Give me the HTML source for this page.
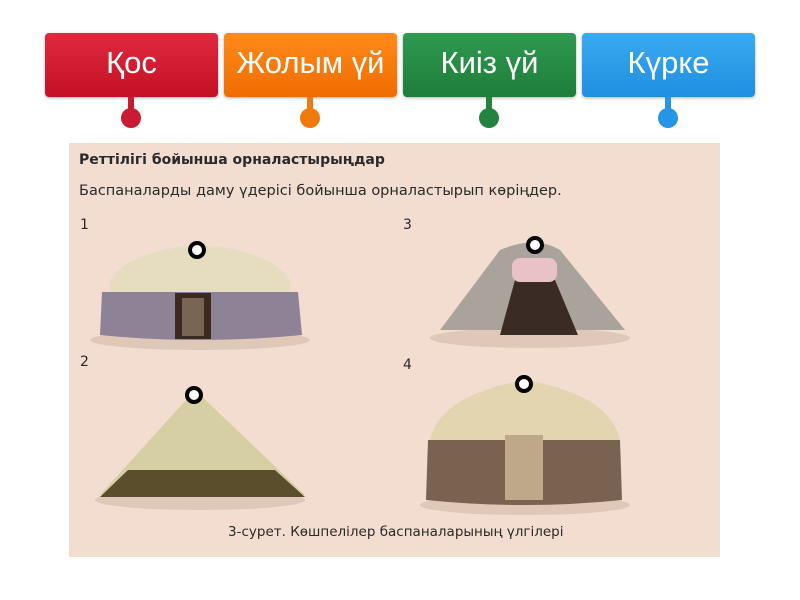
<!DOCTYPE html>
<html><head><meta charset="utf-8"><style>
body{margin:0;width:800px;height:600px;background:#fff;position:relative;overflow:hidden;font-family:"Liberation Sans",sans-serif}
.b{position:absolute;top:33px;width:173px;height:64px;border-radius:4px;color:#fff;font-size:31px;text-align:center;line-height:60px;box-shadow:0 1px 3px rgba(0,0,0,.3)}
.s{position:absolute;top:97px;width:6px;height:14px}
.d{position:absolute;top:108px;width:20px;height:20px;border-radius:50%}
.t{position:absolute;font-family:"DejaVu Sans",sans-serif;color:#2a2a2a}
</style></head><body>
<div class="b" style="left:45px;background:linear-gradient(#e02a3f,#c41024)">Қос</div>
<div class="b" style="left:224px;background:linear-gradient(#ff8a1a,#f06c00)">Жолым үй</div>
<div class="b" style="left:403px;background:linear-gradient(#2f9a50,#1e7d3b)">Киіз үй</div>
<div class="b" style="left:582px;background:linear-gradient(#3aaaf2,#1f8fe0)">Күрке</div>
<div class="s" style="left:128px;background:#c91c33"></div><div class="d" style="left:121px;background:#c91c33"></div>
<div class="s" style="left:307px;background:#f27a0c"></div><div class="d" style="left:300px;background:#f27a0c"></div>
<div class="s" style="left:486px;background:#23833f"></div><div class="d" style="left:479px;background:#23833f"></div>
<div class="s" style="left:665px;background:#2596e6"></div><div class="d" style="left:658px;background:#2596e6"></div>
<div style="position:absolute;left:69px;top:143px;width:651px;height:414px;background:#f2ddd0"></div>
<div class="t" style="left:79px;top:152px;font-size:14px;font-weight:bold">Реттілігі бойынша орналастырыңдар</div>
<div class="t" style="left:79px;top:183px;font-size:14.5px">Баспаналарды даму үдерісі бойынша орналастырып көріңдер.</div>
<div class="t" style="left:80px;top:217px;font-size:14px">1</div>
<div class="t" style="left:403px;top:217px;font-size:14px">3</div>
<div class="t" style="left:80px;top:354px;font-size:14px">2</div>
<div class="t" style="left:403px;top:357px;font-size:14px">4</div>
<div class="t" style="left:228px;top:524px;font-size:13.5px">3-сурет. Көшпелілер баспаналарының үлгілері</div>
<svg style="position:absolute;left:0;top:0" width="800" height="600">
<ellipse cx="200" cy="340" rx="110" ry="10" fill="#e0c8b8"/>
<path d="M110 280 Q130 250 200 245 Q270 250 290 280 L290 292 L110 292Z" fill="#e6dcc0"/>
<path d="M102 292 L298 292 L302 335 Q200 345 100 335Z" fill="#8d8296"/>
<rect x="175" y="293" width="36" height="46" fill="#3a2a20"/>
<rect x="182" y="298" width="22" height="38" fill="#7a6555"/>
<ellipse cx="530" cy="338" rx="100" ry="10" fill="#e0c8b8"/>
<path d="M500 250 Q535 235 560 250 L625 330 L440 330Z" fill="#a9a39b"/>
<path d="M515 280 L555 280 L578 335 L500 335Z" fill="#3a2c25"/>
<rect x="512" y="258" width="45" height="24" rx="8" fill="#e8c2c5"/>
<ellipse cx="200" cy="500" rx="105" ry="10" fill="#e0c8b8"/>
<path d="M195 390 L305 495 L100 495Z" fill="#d7cfa4"/>
<path d="M128 470 L275 470 L305 497 L100 497Z" fill="#5a4e2c"/>
<ellipse cx="525" cy="505" rx="105" ry="10" fill="#e0c8b8"/>
<path d="M430 440 Q440 395 525 380 Q610 395 620 440 L620 450 L428 450Z" fill="#e2d5b0"/>
<path d="M428 440 L620 440 L622 500 Q525 510 426 500Z" fill="#7a6250"/>
<rect x="505" y="435" width="38" height="65" fill="#bda98a"/>
<g fill="#fff" stroke="#000" stroke-width="4">
<circle cx="197" cy="250" r="7"/><circle cx="535" cy="245" r="7"/>
<circle cx="194" cy="395" r="7"/><circle cx="524" cy="384" r="7"/></g>
</svg>
</body></html>
